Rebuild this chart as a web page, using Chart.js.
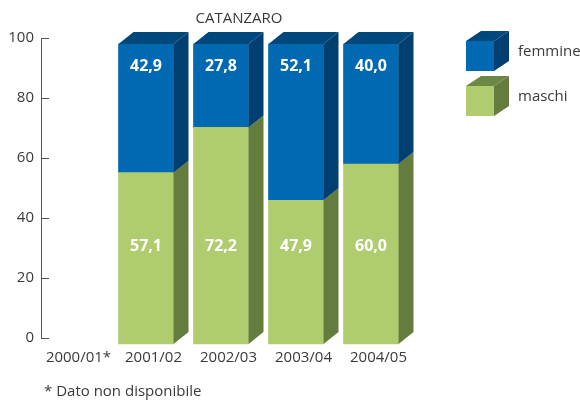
<!DOCTYPE html>
<html>
<head>
<meta charset="utf-8">
<script src="https://cdn.jsdelivr.net/npm/chart.js@4/dist/chart.umd.min.js"></script>
<style>
  html, body { margin: 0; padding: 0; background: #fff; }
</style>
</head>
<body>
<canvas id="chart" width="580" height="400"></canvas>
<script>
const categories = ["2000/01*", "2001/02", "2002/03", "2003/04", "2004/05"];
const maschi = [null, 57.1, 72.2, 47.9, 60.0];
const femmine = [null, 42.9, 27.8, 52.1, 40.0];
const yTicks = [0, 20, 40, 60, 80, 100];

const FONT = "'Open Sans', 'Noto Sans', sans-serif";
const TEXT = "#3a3a3a";
const DX = 15, DY = 12;      // depth of the 3d boxes
const SHIFT_X = -7.5, SHIFT_Y = 6;

const colors = {
    maschi: { front: "#afcd6e", side: "#647c3d", top: "#6d8744" },
    femmine: { front: "#0069b2", side: "#003f70", top: "#00477c" },
};

const fmt = v => v.toFixed(1).replace(".", ",");

const box3d = {
    id: "box3d",
    beforeDatasetsDraw(chart) {
        chart.ctx.save();
        chart.ctx.translate(SHIFT_X, SHIFT_Y);
    },
    afterDatasetsDraw(chart) {
        const ctx = chart.ctx;
        ctx.restore();
        const n = chart.data.datasets.length;
        chart.data.datasets.forEach((ds, d) => {
            const meta = chart.getDatasetMeta(d);
            meta.data.forEach((el, i) => {
                if (ds.data[i] == null) return;
                const half = el.width / 2;
                const l = el.x + SHIFT_X - half, r = el.x + SHIFT_X + half;
                const t = el.y + SHIFT_Y, b = el.base + SHIFT_Y;
                ctx.fillStyle = ds.sideColor;
                ctx.beginPath();
                ctx.moveTo(r, t);
                ctx.lineTo(r + DX, t - DY);
                ctx.lineTo(r + DX, b - DY);
                ctx.lineTo(r, b);
                ctx.closePath();
                ctx.fill();
                if (d === n - 1) {
                    ctx.fillStyle = ds.topColor;
                    ctx.beginPath();
                    ctx.moveTo(l, t);
                    ctx.lineTo(r, t);
                    ctx.lineTo(r + DX, t - DY);
                    ctx.lineTo(l + DX, t - DY);
                    ctx.closePath();
                    ctx.fill();
                }
                // value labels
                ctx.fillStyle = "#fff";
                ctx.font = "bold 16px " + FONT;
                ctx.textAlign = "center";
                ctx.textBaseline = "middle";
                const ly = d === 0 ? b - 98 : t + 22;
                ctx.fillText(fmt(ds.data[i]), el.x + SHIFT_X, ly);
            });
        });
    },
    afterDraw(chart) {
        const ctx = chart.ctx;
        const ys = chart.scales.y;
        const left = chart.chartArea.left;
        ctx.save();
        // inward tick marks
        ctx.strokeStyle = "#555";
        ctx.lineWidth = 1;
        yTicks.forEach(v => {
            const y = Math.round(ys.getPixelForValue(v)) + 0.5;
            ctx.beginPath();
            ctx.moveTo(left, y);
            ctx.lineTo(left + 8, y);
            ctx.stroke();
        });
        ctx.fillStyle = TEXT;
        ctx.font = "15px " + FONT;
        ctx.textBaseline = "middle";
        ctx.textAlign = "center";
        ctx.fillText("CATANZARO", 239, 19);
        ctx.textAlign = "left";
        ctx.fillText("* Dato non disponibile", 44, 392);

        // legend
        const items = [chart.data.datasets[1], chart.data.datasets[0]];
        items.forEach((ds, k) => {
            const x = 466, y = 41 + k * 45, w = 28, h = 30, dx = 15, dy = 10;
            ctx.fillStyle = ds.backgroundColor;
            ctx.fillRect(x, y, w, h);
            ctx.fillStyle = ds.sideColor;
            ctx.beginPath();
            ctx.moveTo(x + w, y); ctx.lineTo(x + w + dx, y - dy);
            ctx.lineTo(x + w + dx, y + h - dy); ctx.lineTo(x + w, y + h);
            ctx.closePath(); ctx.fill();
            ctx.fillStyle = ds.topColor;
            ctx.beginPath();
            ctx.moveTo(x, y); ctx.lineTo(x + w, y);
            ctx.lineTo(x + w + dx, y - dy); ctx.lineTo(x + dx, y - dy);
            ctx.closePath(); ctx.fill();
            ctx.fillStyle = TEXT;
            ctx.font = "15px " + FONT;
            ctx.fillText(ds.label, 518, y + 11);
        });
        ctx.restore();
    },
};

new Chart(document.getElementById("chart"), {
    type: "bar",
    data: {
        labels: categories,
        datasets: [
            {
                label: "maschi",
                data: maschi,
                backgroundColor: colors.maschi.front,
                sideColor: colors.maschi.side,
                topColor: colors.maschi.top,
                barThickness: 55,
                clip: false,
            },
            {
                label: "femmine",
                data: femmine,
                backgroundColor: colors.femmine.front,
                sideColor: colors.femmine.side,
                topColor: colors.femmine.top,
                barThickness: 55,
                clip: false,
            },
        ],
    },
    options: {
        responsive: false,
        animation: false,
        layout: { padding: { top: 38, right: 164, bottom: 0, left: 0 } },
        plugins: {
            legend: { display: false },
            tooltip: { enabled: false },
        },
        scales: {
            x: {
                stacked: true,
                grid: { display: false, drawTicks: false },
                border: { display: false },
                ticks: { color: TEXT, font: { family: FONT, size: 15 }, padding: 11, maxRotation: 0 },
                afterFit: s => { s.height = 62; },
            },
            y: {
                stacked: true,
                min: 0,
                max: 100,
                grid: { display: false, drawTicks: false },
                border: { display: true, color: "#555", width: 1 },
                afterBuildTicks: s => { s.ticks = yTicks.map(v => ({ value: v })); },
                ticks: { color: TEXT, font: { family: FONT, size: 15 }, padding: 7 },
                afterFit: s => { s.width = 41; },
            },
        },
    },
    plugins: [box3d],
});
</script>
</body>
</html>
